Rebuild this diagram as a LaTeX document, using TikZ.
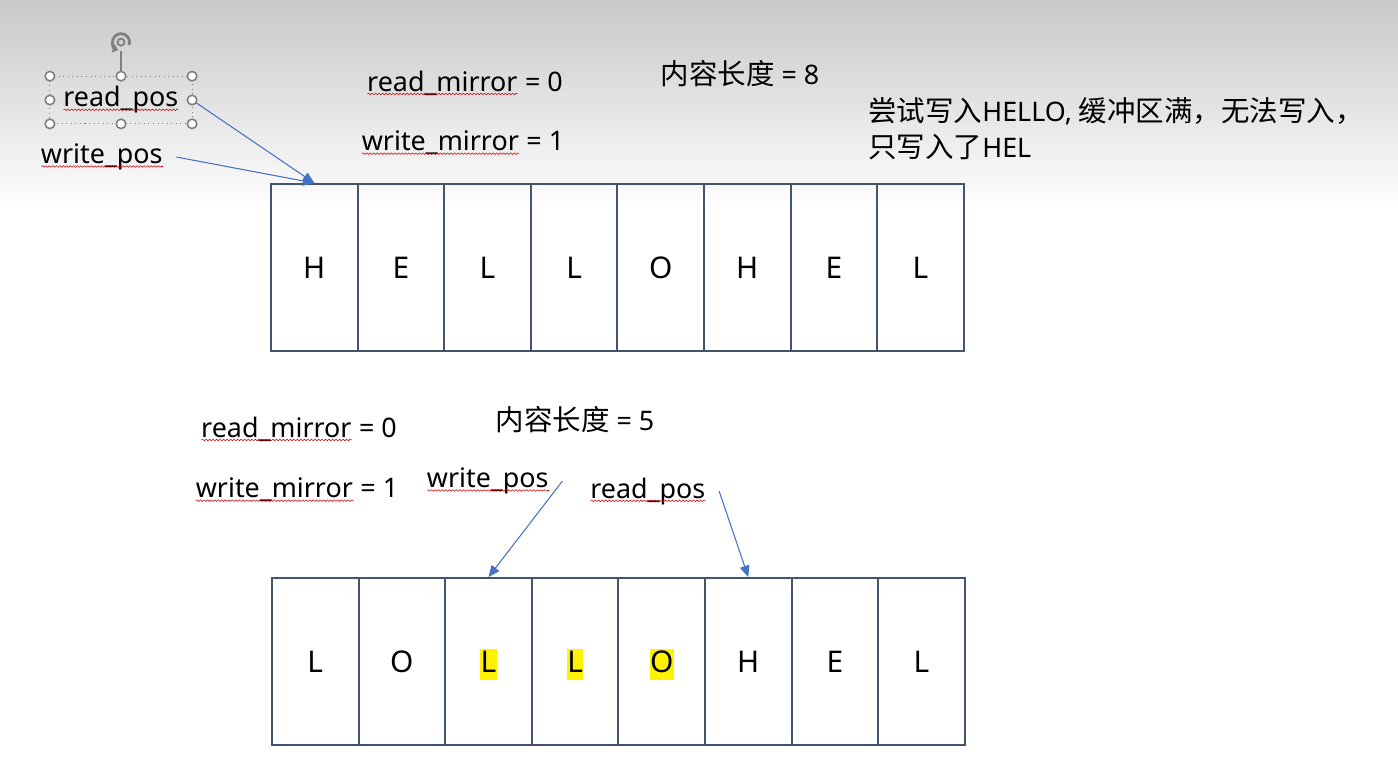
\documentclass[tikz,border=0pt]{standalone}
\usepackage{fontspec}
\setmainfont{Noto Sans}
\newfontfamily\cjk[Scale=1.06]{Noto Sans CJK SC}
\usepackage{tikz}
\usetikzlibrary{arrows.meta,decorations.pathmorphing}
\definecolor{cellline}{HTML}{42546E}
\definecolor{arrowblue}{HTML}{4472C4}
\newlength\spellw
\newcommand\spell[1]{\settowidth{\spellw}{#1}\leavevmode\rlap{#1}%
  \tikz[baseline=0pt]\draw[red!80!black, line width=0.3pt, decorate,
    decoration={snake, amplitude=0.45pt, segment length=2pt}] (0pt,-1.6pt) -- (\spellw,-1.6pt);}

\begin{document}
\begin{tikzpicture}[x=0.02cm, y=-0.02cm]
\tikzstyle{cellbox}=[draw=cellline, line width=1.1pt, minimum width=1.732cm, minimum height=3.34cm, inner sep=0pt]
\tikzstyle{celltext}=[font=\fontsize{17}{20}\selectfont, inner xsep=0.3pt, inner ysep=0pt, text height=13.3pt, text depth=3.9pt, yshift=-0.06cm]
\tikzstyle{hl0}=[]
\tikzstyle{hl1}=[fill=yellow]
\tikzstyle{tag}=[font=\fontsize{15.3}{20.5}\selectfont, inner xsep=0.26cm, minimum height=0.94cm]
\tikzstyle{pointer}=[draw=arrowblue, line width=0.6pt, -{Triangle[length=6.5pt,width=5.5pt]}]
\tikzstyle{handle}=[draw=gray, fill=white, line width=0.9pt]
\useasboundingbox (0,0) rectangle (1398,765);
\fill[white] (0,0) rectangle (1398,765);
\shade[top color=gray!43, bottom color=white] (0,0) rectangle (1398,210);

% upper buffer: full
\foreach \ch [count=\i] in {H,E,L,L,O,H,E,L} {
  \node[cellbox] (t\i) at ({271+86.6*(\i-0.5)},267.5) {};
  \node[celltext] at (t\i) {\ch};
}
\node[tag] (rpos1) at (121,100) {\spell{read\_pos}};
\node[tag] (wpos1) at (102,157) {\spell{write\_pos}};
\node[tag] (rm1) at (465,83) {\spell{read\_mirror} = 0};
\node[tag] (wm1) at (463,143) {\spell{write\_mirror} = 1};
\node[tag] (len1) at (740,74) {{\cjk 内容长度} = 8};
\node[tag, anchor=west, align=left] (note) at (855,129)
  {{\cjk 尝试写入}HELLO, {\cjk 缓冲区满，无法写入，}\\{\cjk 只写入了}HEL};
\draw[pointer] (rpos1.east) -- (t1.north);
\draw[pointer] (wpos1.east) -- (t1.north);

% selection of the read_pos box
\draw[gray, dotted, line width=0.6pt] (rpos1.north west) rectangle (rpos1.south east);
\coordinate (rot) at ([yshift=0.68cm]rpos1.north);
\draw[gray, line width=0.9pt] (rpos1.north) -- ([yshift=0.5cm]rpos1.north);
\draw[gray, line width=1.6pt, -{Triangle[length=3pt,width=5pt]}]
  ([shift={(-20:0.17cm)}]rot) arc[start angle=-20, end angle=250, radius=0.17cm];
\draw[gray, line width=1.1pt] (rot) circle (0.07cm);
\foreach \a in {north west,north,north east,east,south east,south,south west,west}
  \draw[handle] (rpos1.\a) circle (0.095cm);

% lower buffer: wrapped
\foreach \ch/\h [count=\i] in {L/0,O/0,L/1,L/1,O/1,H/0,E/0,L/0} {
  \node[cellbox] (b\i) at ({272+86.6*(\i-0.5)},661.5) {};
  \node[celltext, hl\h] at (b\i) {\ch};
}
\node[tag] (rm2) at (299,429) {\spell{read\_mirror} = 0};
\node[tag] (wm2) at (297,490) {\spell{write\_mirror} = 1};
\node[tag] (len2) at (575,420) {{\cjk 内容长度} = 5};
\node[tag] (wpos2) at (488,481) {\spell{write\_pos}};
\node[tag] (rpos2) at (648,491) {\spell{read\_pos}};
\draw[pointer] (wpos2.east) -- (b3.north);
\draw[pointer] (rpos2.east) -- (b6.north);
\end{tikzpicture}
\end{document}
